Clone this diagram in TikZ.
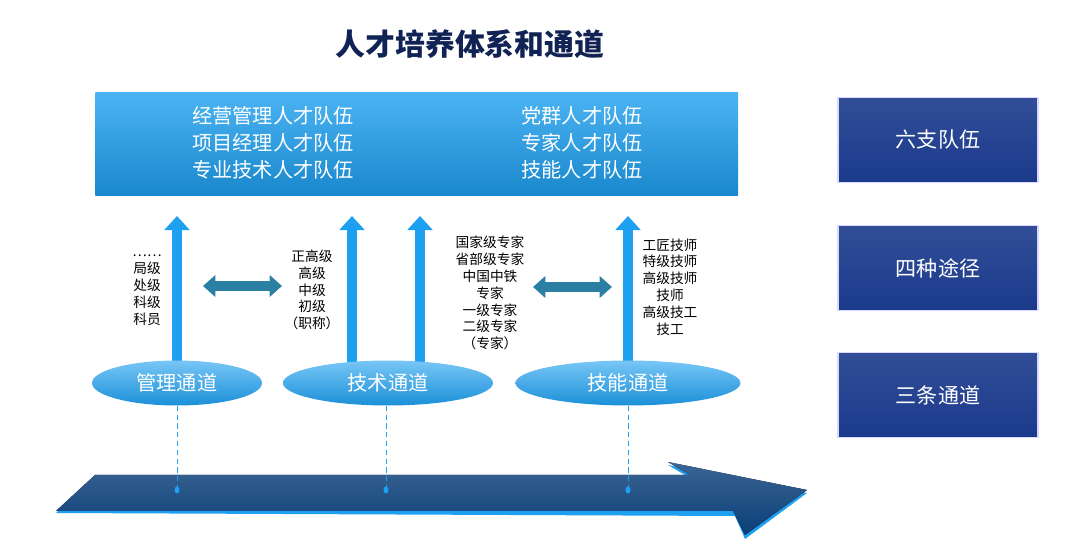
\documentclass[tikz,border=0pt]{standalone}
\usepackage{fontspec}
\setmainfont{Noto Sans CJK SC}
\usetikzlibrary{shapes.geometric,arrows.meta}
\definecolor{navy}{HTML}{1B3A8C}
\definecolor{deep}{HTML}{0A3E78}
\definecolor{sky}{HTML}{1EA0F0}
\definecolor{teal2}{HTML}{2A7FA3}
\begin{document}
\begin{tikzpicture}[x=0.02cm,y=-0.02cm,
    boite/.style={draw=blue!15, line width=1pt, top color=navy!90, bottom color=navy, minimum width=4cm, minimum height=1.7cm, text=white, font=\fontsize{12}{14}\selectfont},
    canal/.style={ellipse, top color=sky!60, bottom color=sky!90!black, text=white, font=\fontsize{11.5}{13}\selectfont, inner sep=0pt, minimum height=0.9cm},
    niveau/.style={align=center, font=\fontsize{7.8}{9.6}\selectfont},
    montee/.style={sky, line width=6pt, -{Triangle[width=14pt,length=8pt]}},
    lien/.style={teal2, line width=6pt, {Triangle[width=12pt,length=7pt]}-{Triangle[width=12pt,length=7pt]}},
    pointille/.style={sky, densely dashed, line width=0.4pt}]
\useasboundingbox (0,0) rectangle (1080,557);

% titre
\node[font=\bfseries\fontsize{17}{20}\selectfont, text=navy!60!black] (titre) at (470,44) {人才培养体系和通道};

% bandeau des six équipes
\node[draw=none, minimum width=12.86cm, minimum height=2.06cm, top color=sky!80!white, bottom color=sky!85!black, anchor=north west] (bande) at (95,92) {};
\node[niveau, text=white, font=\fontsize{11.5}{15.5}\selectfont] (equipeA) at (273,143) {经营管理人才队伍\\项目经理人才队伍\\专业技术人才队伍};
\node[niveau, text=white, font=\fontsize{11.5}{15.5}\selectfont] (equipeB) at (582,143) {党群人才队伍\\专家人才队伍\\技能人才队伍};

% boites à droite
\node[boite] (six) at (938,140) {六支队伍};
\node[boite] (quatre) at (938,268) {四种途径};
\node[boite] (trois) at (938,395) {三条通道};

% flèches montantes
\coordinate (h1) at (177,216); \coordinate (b1) at (177,368);
\coordinate (h2) at (352,216); \coordinate (b2) at (352,368);
\coordinate (h3) at (420,216); \coordinate (b3) at (420,368);
\coordinate (h4) at (628,216); \coordinate (b4) at (628,368);
\foreach \i in {1,...,4} \draw[montee] (b\i) -- (h\i);

% canaux
\node[canal, minimum width=3.4cm] (gestion) at (177,383) {管理通道};
\node[canal, minimum width=4.2cm] (technique) at (388,383) {技术通道};
\node[canal, minimum width=4.5cm] (metier) at (628,383) {技能通道};

% niveaux
\node[niveau] (grades1) at (147,290) {……\\局级\\处级\\科级\\科员};
\node[niveau] (grades2) at (312,290) {正高级\\高级\\中级\\初级\\（职称）};
\node[niveau] (grades3) at (490,293) {国家级专家\\省部级专家\\中国中铁\\专家\\一级专家\\二级专家\\（专家）};
\node[niveau] (grades4) at (670,287) {工匠技师\\特级技师\\高级技师\\技师\\高级技工\\技工};

% liens
\coordinate (l1) at (203,286); \coordinate (r1) at (282,286);
\coordinate (l2) at (533,287); \coordinate (r2) at (612,287);
\draw[lien] (l1) -- (r1);
\draw[lien] (l2) -- (r2);

% grande flèche
\fill[sky] (56,513) -- (95,478) -- (690,478) -- (668,465) -- (807,493) -- (745,539) -- (735,516) -- cycle;
\fill[top color=deep!80, bottom color=deep] (56,511) -- (95,475) -- (690,475) -- (668,462) -- (807,490) -- (745,535) -- (733,511) -- cycle;

% pointillés
\coordinate (p1) at (177,490); \coordinate (p2) at (386,490); \coordinate (p3) at (628,490);
\draw[pointille] (gestion.south) -- (p1);
\draw[pointille] (technique.south -| p2) -- (p2);
\draw[pointille] (metier.south) -- (p3);
\foreach \p in {p1,p2,p3} \fill[sky] (\p) ellipse (2.5 and 3.5);
\end{tikzpicture}
\end{document}
